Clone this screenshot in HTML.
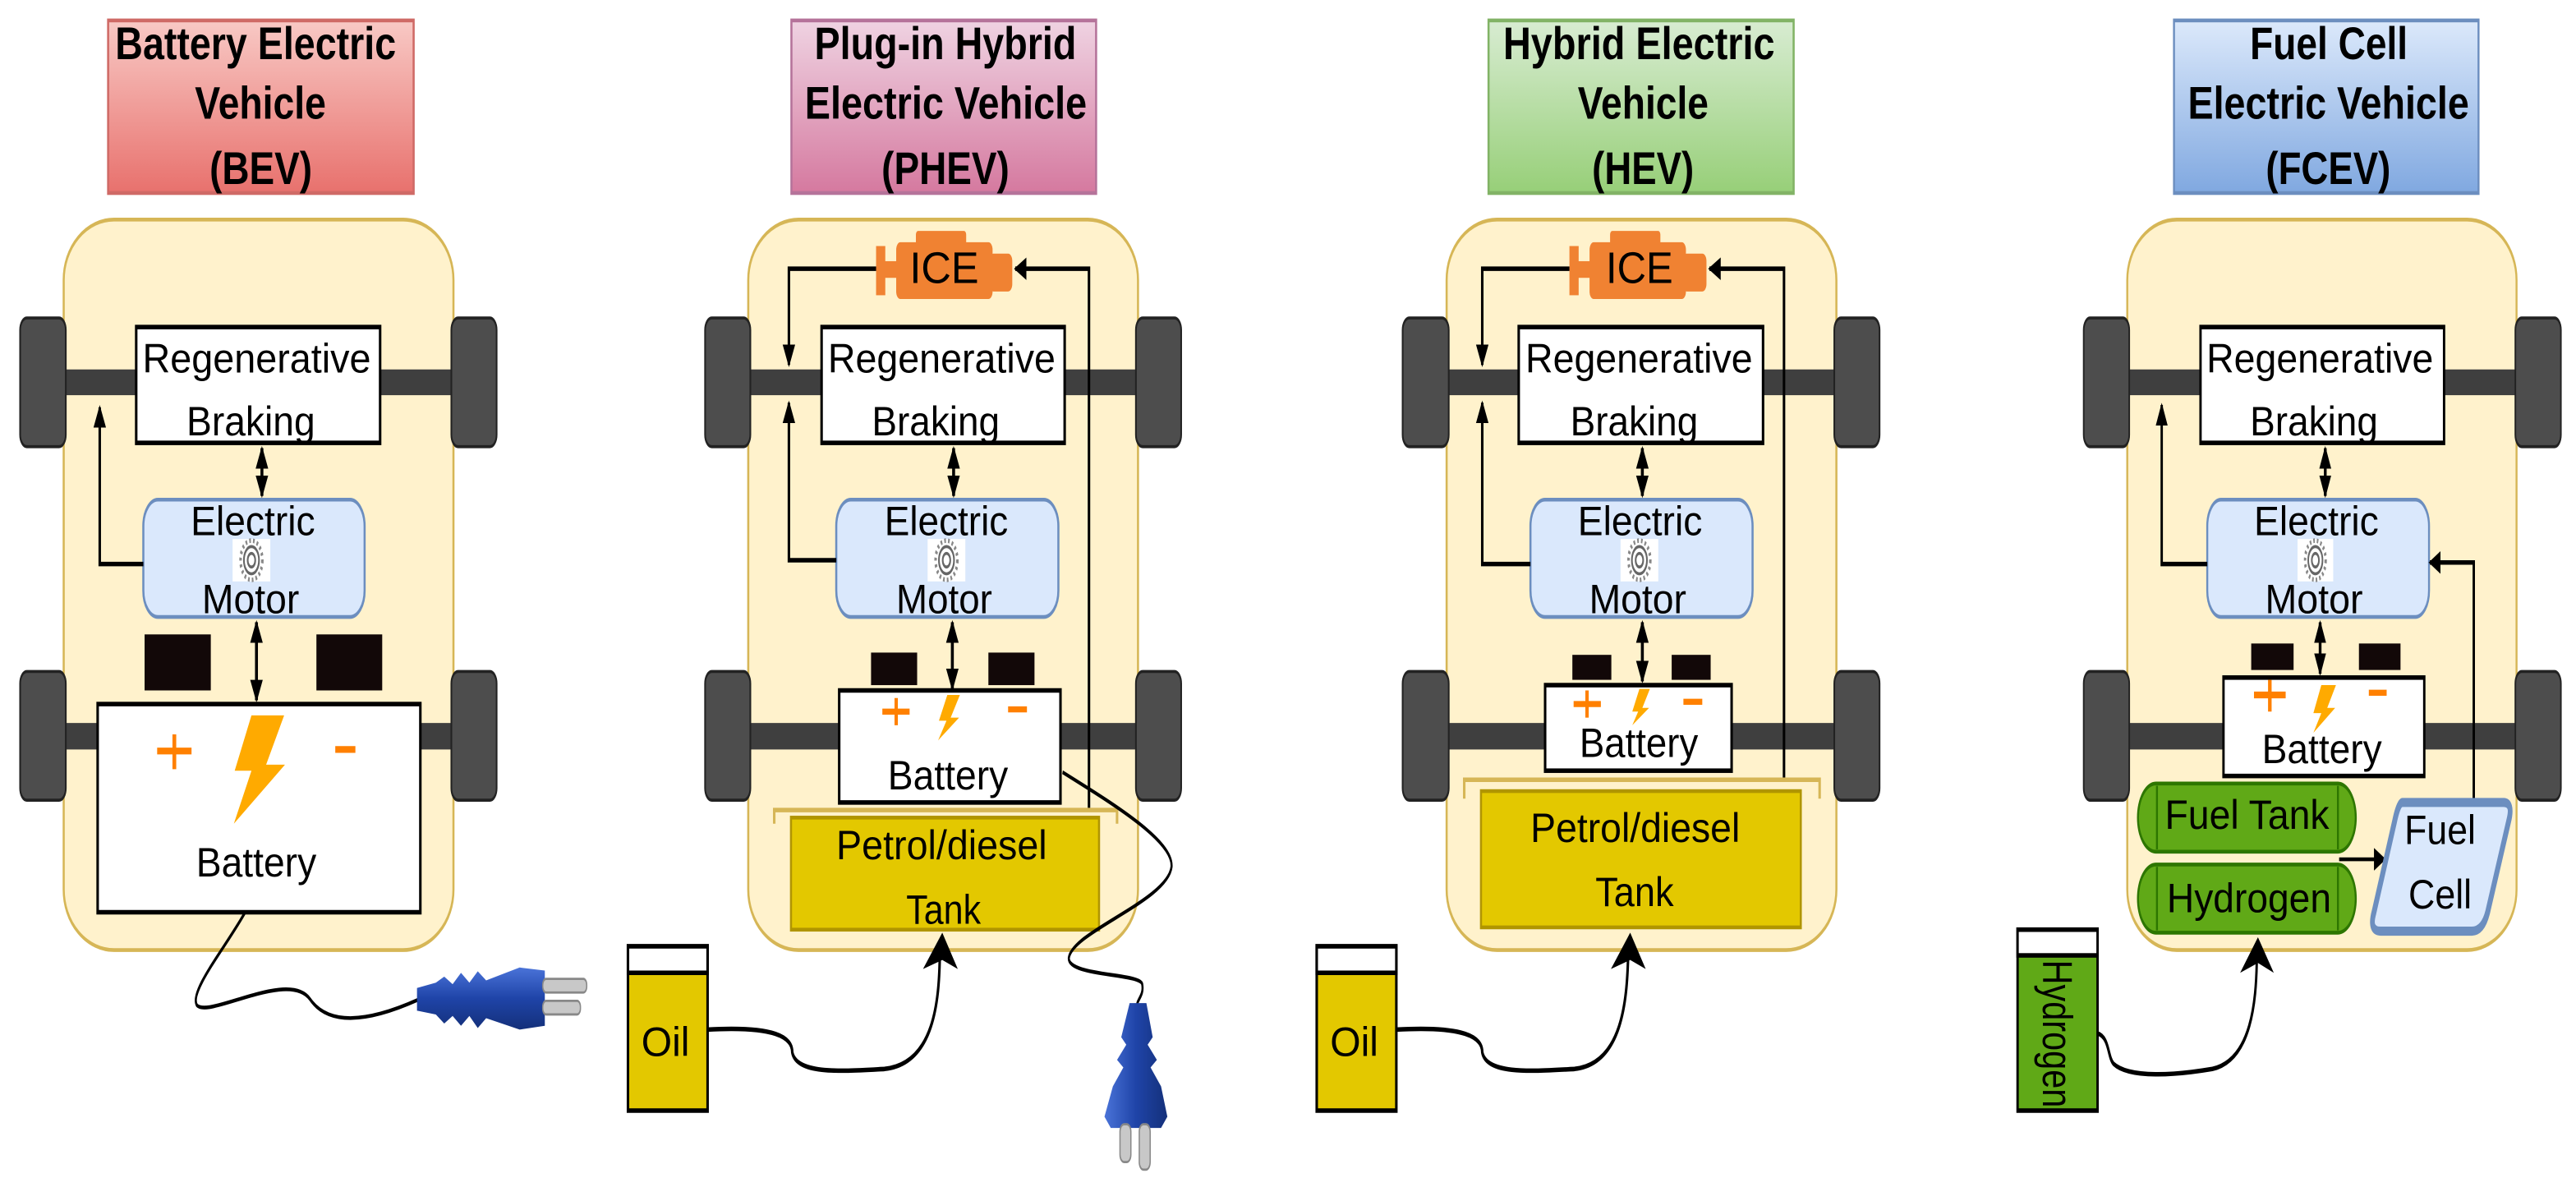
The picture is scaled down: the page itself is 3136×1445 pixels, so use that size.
<!DOCTYPE html>
<html><head><meta charset="utf-8"><style>
html,body{margin:0;padding:0;background:#fff}
svg{display:block}
text{font-family:"Liberation Sans",Arial,sans-serif;fill:#000}
.b{font-weight:bold;font-size:60px}
.t{font-size:54px}
</style></head><body>
<svg width="3136" height="1445" viewBox="0 0 3136 1445" xmlns="http://www.w3.org/2000/svg">
<defs>
<linearGradient id="gr" x1="0" y1="0" x2="0" y2="1"><stop offset="0" stop-color="#f8c9c5"/><stop offset="1" stop-color="#e8716d"/></linearGradient>
<linearGradient id="gp" x1="0" y1="0" x2="0" y2="1"><stop offset="0" stop-color="#efd3e2"/><stop offset="1" stop-color="#d5799f"/></linearGradient>
<linearGradient id="gg" x1="0" y1="0" x2="0" y2="1"><stop offset="0" stop-color="#d8ecd2"/><stop offset="1" stop-color="#97cf78"/></linearGradient>
<linearGradient id="gb" x1="0" y1="0" x2="0" y2="1"><stop offset="0" stop-color="#dce9fb"/><stop offset="1" stop-color="#80a8e0"/></linearGradient>
<linearGradient id="plug" x1="0" y1="0" x2="0" y2="1"><stop offset="0" stop-color="#4a73d8"/><stop offset="0.5" stop-color="#1f44a8"/><stop offset="1" stop-color="#14307a"/></linearGradient>
<linearGradient id="plugv" x1="0" y1="0" x2="1" y2="0"><stop offset="0" stop-color="#4a73d8"/><stop offset="0.5" stop-color="#1f44a8"/><stop offset="1" stop-color="#14307a"/></linearGradient>
<marker id="ah" viewBox="0 0 10 10" refX="9" refY="5" markerUnits="userSpaceOnUse" markerWidth="30" markerHeight="55" orient="auto-start-reverse"><path d="M0,0 L10,5 L0,10 z" fill="#000"/></marker>
</defs>

<!-- ================= BEV ================= -->
<g transform="translate(0,0) scale(0.5102,0.9216)">
<rect x="258" y="27" width="729" height="228" fill="url(#gr)" stroke="#cf6a66" stroke-width="5"/>
<text class="b" x="275" y="78" textLength="670" lengthAdjust="spacingAndGlyphs">Battery Electric</text>
<text class="b" x="465" y="157" textLength="313" lengthAdjust="spacingAndGlyphs">Vehicle</text>
<text class="b" x="500" y="243" textLength="245" lengthAdjust="spacingAndGlyphs">(BEV)</text>
<rect x="152" y="290" width="930" height="965" rx="120" ry="80" fill="#fff2cc" stroke="#d6b656" stroke-width="5"/>
<rect x="150" y="488" width="935" height="34" fill="#3f3f3f"/>
<rect x="150" y="955" width="935" height="35" fill="#3f3f3f"/>
<rect x="48" y="420" width="109" height="170" rx="16" fill="#4d4d4d" stroke="#222" stroke-width="4"/>
<rect x="48" y="887" width="109" height="170" rx="16" fill="#4d4d4d" stroke="#222" stroke-width="4"/>
<rect x="1077" y="420" width="108" height="170" rx="16" fill="#4d4d4d" stroke="#222" stroke-width="4"/>
<rect x="1077" y="887" width="108" height="170" rx="16" fill="#4d4d4d" stroke="#222" stroke-width="4"/>
<rect x="325" y="432" width="582" height="153" fill="#fff" stroke="#000" stroke-width="6"/>
<text class="t" x="340" y="492" textLength="545" lengthAdjust="spacingAndGlyphs">Regenerative</text>
<text class="t" x="445" y="575" textLength="307" lengthAdjust="spacingAndGlyphs">Braking</text>
<line x1="625" y1="592" x2="625" y2="655" stroke="#000" stroke-width="7" marker-start="url(#ah)" marker-end="url(#ah)"/>
<rect x="342" y="660" width="528" height="155" rx="35" fill="#dae8fc" stroke="#6c8ebf" stroke-width="5"/>
<text class="t" x="455" y="707" textLength="297" lengthAdjust="spacingAndGlyphs">Electric</text>
<g transform="translate(600,740)"><rect x="-45" y="-28" width="90" height="56" fill="#fff"/><circle r="26" fill="none" stroke="#888" stroke-width="6" stroke-dasharray="4 5"/><circle r="18" fill="#fff" stroke="#666" stroke-width="4"/><circle r="9" fill="none" stroke="#666" stroke-width="4"/></g>
<text class="t" x="482" y="810" textLength="232" lengthAdjust="spacingAndGlyphs">Motor</text>
<polyline points="342,745 238,745 238,538" fill="none" stroke="#000" stroke-width="6" marker-end="url(#ah)"/>
<rect x="345" y="838" width="158" height="74" fill="#120808"/>
<rect x="755" y="838" width="157" height="74" fill="#120808"/>
<line x1="612" y1="822" x2="612" y2="925" stroke="#000" stroke-width="7" marker-start="url(#ah)" marker-end="url(#ah)"/>
<rect x="233" y="930" width="770" height="275" fill="#fff" stroke="#000" stroke-width="6"/>
<path d="M375,992 h82 M416,970 v46" stroke="#ff8000" stroke-width="9"/>
<path d="M600,945 L678,945 L635,1010 L680,1010 L558,1088 L600,1018 L560,1018 z" fill="#ffaa00"/>
<path d="M800,990 h48" stroke="#ff8000" stroke-width="9"/>
<text class="t" x="468" y="1158" textLength="287" lengthAdjust="spacingAndGlyphs">Battery</text>
<path d="M585,1205 C540,1250 450,1310 470,1328 C500,1345 690,1280 740,1320 C790,1360 900,1345 1000,1320" fill="none" stroke="#000" stroke-width="5"/>
<path d="M995,1305 L1040,1298 L1060,1290 L1080,1300 L1100,1285 L1120,1298 L1140,1283 L1160,1295 L1240,1278 L1300,1282 L1300,1355 L1240,1360 L1160,1345 L1140,1358 L1120,1342 L1100,1355 L1080,1342 L1060,1352 L1040,1340 L995,1335 z" fill="url(#plug)"/>
<rect x="1295" y="1293" width="105" height="18" rx="8" fill="#c8c8c8" stroke="#888" stroke-width="3"/>
<rect x="1295" y="1322" width="90" height="18" rx="8" fill="#c8c8c8" stroke="#888" stroke-width="3"/>
</g>

<!-- ================= PHEV ================= -->
<g transform="translate(740,0) scale(0.5102,0.9216)">
<rect x="438" y="27" width="727" height="228" fill="url(#gp)" stroke="#b5739a" stroke-width="5"/>
<text class="b" x="493" y="78" textLength="625" lengthAdjust="spacingAndGlyphs">Plug-in Hybrid</text>
<text class="b" x="470" y="157" textLength="673" lengthAdjust="spacingAndGlyphs">Electric Vehicle</text>
<text class="b" x="653" y="243" textLength="305" lengthAdjust="spacingAndGlyphs">(PHEV)</text>
<rect x="335" y="290" width="930" height="965" rx="120" ry="80" fill="#fff2cc" stroke="#d6b656" stroke-width="5"/>
<rect x="335" y="488" width="930" height="34" fill="#3f3f3f"/>
<rect x="335" y="955" width="930" height="35" fill="#3f3f3f"/>
<rect x="232" y="420" width="108" height="170" rx="16" fill="#4d4d4d" stroke="#222" stroke-width="4"/>
<rect x="232" y="887" width="108" height="170" rx="16" fill="#4d4d4d" stroke="#222" stroke-width="4"/>
<rect x="1260" y="420" width="108" height="170" rx="16" fill="#4d4d4d" stroke="#222" stroke-width="4"/>
<rect x="1260" y="887" width="108" height="170" rx="16" fill="#4d4d4d" stroke="#222" stroke-width="4"/>
<g fill="#f08232"><rect x="640" y="325" width="22" height="65"/><rect x="660" y="345" width="30" height="22"/><rect x="688" y="320" width="230" height="75" rx="10"/><rect x="735" y="305" width="120" height="25" rx="5"/><rect x="910" y="335" width="55" height="50" rx="10"/></g>
<text x="720" y="374" font-size="58" textLength="165" lengthAdjust="spacingAndGlyphs">ICE</text>
<polyline points="640,355 432,355 432,482" fill="none" stroke="#000" stroke-width="6" marker-end="url(#ah)"/>
<polyline points="1148,1068 1148,355 972,355" fill="none" stroke="#000" stroke-width="6" marker-end="url(#ah)"/>
<rect x="510" y="432" width="580" height="153" fill="#fff" stroke="#000" stroke-width="6"/>
<text class="t" x="525" y="492" textLength="543" lengthAdjust="spacingAndGlyphs">Regenerative</text>
<text class="t" x="630" y="575" textLength="305" lengthAdjust="spacingAndGlyphs">Braking</text>
<line x1="825" y1="592" x2="825" y2="655" stroke="#000" stroke-width="7" marker-start="url(#ah)" marker-end="url(#ah)"/>
<rect x="545" y="660" width="530" height="155" rx="35" fill="#dae8fc" stroke="#6c8ebf" stroke-width="5"/>
<text class="t" x="660" y="707" textLength="295" lengthAdjust="spacingAndGlyphs">Electric</text>
<g transform="translate(808,740)"><rect x="-45" y="-28" width="90" height="56" fill="#fff"/><circle r="26" fill="none" stroke="#888" stroke-width="6" stroke-dasharray="4 5"/><circle r="18" fill="#fff" stroke="#666" stroke-width="4"/><circle r="9" fill="none" stroke="#666" stroke-width="4"/></g>
<text class="t" x="688" y="810" textLength="229" lengthAdjust="spacingAndGlyphs">Motor</text>
<polyline points="545,740 432,740 432,532" fill="none" stroke="#000" stroke-width="6" marker-end="url(#ah)"/>
<rect x="628" y="862" width="110" height="43" fill="#120808"/>
<rect x="908" y="862" width="110" height="43" fill="#120808"/>
<line x1="822" y1="822" x2="822" y2="910" stroke="#000" stroke-width="7" marker-start="url(#ah)" marker-end="url(#ah)"/>
<rect x="552" y="912" width="528" height="148" fill="#fff" stroke="#000" stroke-width="6"/>
<path d="M655,940 h65 M688,922 v36" stroke="#ff8000" stroke-width="8"/>
<path d="M810,918 L840,918 L818,948 L838,948 L788,978 L808,952 L790,952 z" fill="#ffaa00"/>
<path d="M955,937 h45" stroke="#ff8000" stroke-width="8"/>
<text class="t" x="668" y="1043" textLength="287" lengthAdjust="spacingAndGlyphs">Battery</text>
<path d="M397,1088 V1070 H1215 V1088" fill="none" stroke="#d6b656" stroke-width="6"/>
<rect x="437" y="1080" width="735" height="148" fill="#e3c800" stroke="#b09500" stroke-width="5"/>
<text class="t" x="545" y="1135" textLength="503" lengthAdjust="spacingAndGlyphs">Petrol/diesel</text>
<text class="t" x="712" y="1220" textLength="178" lengthAdjust="spacingAndGlyphs">Tank</text>
<rect x="48" y="1250" width="190" height="217" fill="#e3c800" stroke="#000" stroke-width="6"/>
<rect x="48" y="1250" width="190" height="35" fill="#fff" stroke="#000" stroke-width="6"/>
<text class="t" x="80" y="1395" textLength="115" lengthAdjust="spacingAndGlyphs">Oil</text>
<path d="M238,1360 C400,1355 440,1370 440,1390 C450,1420 560,1415 660,1412 C780,1405 790,1320 792,1265" fill="none" stroke="#000" stroke-width="6"/>
<path d="M798,1232 L835,1280 L798,1268 L752,1280 z" fill="#000"/>
<path d="M1085,1020 C1200,1060 1350,1110 1345,1145 C1335,1190 1110,1230 1100,1265 C1095,1290 1270,1285 1275,1300 C1280,1315 1262,1320 1262,1330" fill="none" stroke="#000" stroke-width="5"/>
<path d="M1245,1325 L1285,1325 L1300,1370 L1288,1380 L1310,1400 L1295,1410 L1320,1435 L1335,1475 L1320,1490 L1200,1490 L1185,1475 L1205,1435 L1230,1410 L1215,1400 L1237,1380 L1225,1370 z" fill="url(#plugv)"/>
<rect x="1222" y="1485" width="26" height="50" rx="10" fill="#c8c8c8" stroke="#888" stroke-width="3"/>
<rect x="1268" y="1485" width="26" height="60" rx="10" fill="#c8c8c8" stroke="#888" stroke-width="3"/>
</g>

<!-- ================= HEV ================= -->
<g transform="translate(1580,0) scale(0.5102,0.9216)">
<rect x="455" y="27" width="728" height="228" fill="url(#gg)" stroke="#82b366" stroke-width="5"/>
<text class="b" x="490" y="78" textLength="648" lengthAdjust="spacingAndGlyphs">Hybrid Electric</text>
<text class="b" x="668" y="157" textLength="312" lengthAdjust="spacingAndGlyphs">Vehicle</text>
<text class="b" x="702" y="243" textLength="243" lengthAdjust="spacingAndGlyphs">(HEV)</text>
<rect x="355" y="290" width="930" height="965" rx="120" ry="80" fill="#fff2cc" stroke="#d6b656" stroke-width="5"/>
<rect x="355" y="488" width="930" height="34" fill="#3f3f3f"/>
<rect x="355" y="955" width="930" height="35" fill="#3f3f3f"/>
<rect x="250" y="420" width="110" height="170" rx="16" fill="#4d4d4d" stroke="#222" stroke-width="4"/>
<rect x="250" y="887" width="110" height="170" rx="16" fill="#4d4d4d" stroke="#222" stroke-width="4"/>
<rect x="1280" y="420" width="108" height="170" rx="16" fill="#4d4d4d" stroke="#222" stroke-width="4"/>
<rect x="1280" y="887" width="108" height="170" rx="16" fill="#4d4d4d" stroke="#222" stroke-width="4"/>
<g fill="#f08232"><rect x="648" y="325" width="22" height="65"/><rect x="668" y="345" width="30" height="22"/><rect x="696" y="320" width="230" height="75" rx="10"/><rect x="745" y="305" width="120" height="25" rx="5"/><rect x="918" y="335" width="57" height="50" rx="10"/></g>
<text x="735" y="374" font-size="58" textLength="160" lengthAdjust="spacingAndGlyphs">ICE</text>
<polyline points="648,355 440,355 440,482" fill="none" stroke="#000" stroke-width="6" marker-end="url(#ah)"/>
<polyline points="1160,1030 1160,355 982,355" fill="none" stroke="#000" stroke-width="6" marker-end="url(#ah)"/>
<rect x="527" y="432" width="583" height="153" fill="#fff" stroke="#000" stroke-width="6"/>
<text class="t" x="543" y="492" textLength="542" lengthAdjust="spacingAndGlyphs">Regenerative</text>
<text class="t" x="650" y="575" textLength="305" lengthAdjust="spacingAndGlyphs">Braking</text>
<line x1="822" y1="592" x2="822" y2="655" stroke="#000" stroke-width="7" marker-start="url(#ah)" marker-end="url(#ah)"/>
<rect x="555" y="660" width="530" height="155" rx="35" fill="#dae8fc" stroke="#6c8ebf" stroke-width="5"/>
<text class="t" x="668" y="707" textLength="297" lengthAdjust="spacingAndGlyphs">Electric</text>
<g transform="translate(815,740)"><rect x="-45" y="-28" width="90" height="56" fill="#fff"/><circle r="26" fill="none" stroke="#888" stroke-width="6" stroke-dasharray="4 5"/><circle r="18" fill="#fff" stroke="#666" stroke-width="4"/><circle r="9" fill="none" stroke="#666" stroke-width="4"/></g>
<text class="t" x="695" y="810" textLength="232" lengthAdjust="spacingAndGlyphs">Motor</text>
<polyline points="555,745 440,745 440,532" fill="none" stroke="#000" stroke-width="6" marker-end="url(#ah)"/>
<rect x="655" y="865" width="93" height="33" fill="#120808"/>
<rect x="892" y="865" width="93" height="33" fill="#120808"/>
<line x1="822" y1="822" x2="822" y2="900" stroke="#000" stroke-width="7" marker-start="url(#ah)" marker-end="url(#ah)"/>
<rect x="590" y="905" width="445" height="113" fill="#fff" stroke="#000" stroke-width="6"/>
<path d="M658,930 h65 M690,912 v36" stroke="#ff8000" stroke-width="8"/>
<path d="M815,910 L840,910 L822,935 L838,935 L798,958 L812,940 L798,940 z" fill="#ffaa00"/>
<path d="M920,927 h45" stroke="#ff8000" stroke-width="8"/>
<text class="t" x="672" y="1000" textLength="283" lengthAdjust="spacingAndGlyphs">Battery</text>
<path d="M397,1055 V1030 H1245 V1055" fill="none" stroke="#d6b656" stroke-width="6"/>
<rect x="437" y="1045" width="763" height="180" fill="#e3c800" stroke="#b09500" stroke-width="5"/>
<text class="t" x="555" y="1112" textLength="500" lengthAdjust="spacingAndGlyphs">Petrol/diesel</text>
<text class="t" x="710" y="1197" textLength="187" lengthAdjust="spacingAndGlyphs">Tank</text>
<rect x="45" y="1250" width="190" height="217" fill="#e3c800" stroke="#000" stroke-width="6"/>
<rect x="45" y="1250" width="190" height="35" fill="#fff" stroke="#000" stroke-width="6"/>
<text class="t" x="77" y="1395" textLength="115" lengthAdjust="spacingAndGlyphs">Oil</text>
<path d="M235,1360 C400,1355 440,1370 440,1390 C450,1420 560,1415 660,1412 C775,1405 785,1320 788,1265" fill="none" stroke="#000" stroke-width="6"/>
<path d="M793,1232 L830,1280 L793,1268 L747,1280 z" fill="#000"/>
</g>

<!-- ================= FCEV ================= -->
<g transform="translate(2380,0) scale(0.4821,0.9216)">
<rect x="553" y="27" width="769" height="228" fill="url(#gb)" stroke="#6c8ebf" stroke-width="5"/>
<text class="b" x="745" y="78" textLength="398" lengthAdjust="spacingAndGlyphs">Fuel Cell</text>
<text class="b" x="588" y="157" textLength="710" lengthAdjust="spacingAndGlyphs">Electric Vehicle</text>
<text class="b" x="785" y="243" textLength="315" lengthAdjust="spacingAndGlyphs">(FCEV)</text>
<rect x="435" y="290" width="983" height="965" rx="125" ry="80" fill="#fff2cc" stroke="#d6b656" stroke-width="5"/>
<rect x="435" y="488" width="983" height="34" fill="#3f3f3f"/>
<rect x="435" y="955" width="983" height="35" fill="#3f3f3f"/>
<rect x="325" y="420" width="115" height="170" rx="16" fill="#4d4d4d" stroke="#222" stroke-width="4"/>
<rect x="325" y="887" width="115" height="170" rx="16" fill="#4d4d4d" stroke="#222" stroke-width="4"/>
<rect x="1415" y="420" width="115" height="170" rx="16" fill="#4d4d4d" stroke="#222" stroke-width="4"/>
<rect x="1415" y="887" width="115" height="170" rx="16" fill="#4d4d4d" stroke="#222" stroke-width="4"/>
<rect x="620" y="432" width="615" height="153" fill="#fff" stroke="#000" stroke-width="6"/>
<text class="t" x="635" y="492" textLength="573" lengthAdjust="spacingAndGlyphs">Regenerative</text>
<text class="t" x="745" y="575" textLength="323" lengthAdjust="spacingAndGlyphs">Braking</text>
<line x1="935" y1="592" x2="935" y2="655" stroke="#000" stroke-width="7" marker-start="url(#ah)" marker-end="url(#ah)"/>
<rect x="637" y="660" width="560" height="155" rx="35" fill="#dae8fc" stroke="#6c8ebf" stroke-width="5"/>
<text class="t" x="755" y="707" textLength="315" lengthAdjust="spacingAndGlyphs">Electric</text>
<g transform="translate(910,740)"><rect x="-45" y="-28" width="90" height="56" fill="#fff"/><circle r="26" fill="none" stroke="#888" stroke-width="6" stroke-dasharray="4 5"/><circle r="18" fill="#fff" stroke="#666" stroke-width="4"/><circle r="9" fill="none" stroke="#666" stroke-width="4"/></g>
<text class="t" x="783" y="810" textLength="247" lengthAdjust="spacingAndGlyphs">Motor</text>
<polyline points="637,745 522,745 522,535" fill="none" stroke="#000" stroke-width="6" marker-end="url(#ah)"/>
<polyline points="1310,1060 1310,743 1199,743" fill="none" stroke="#000" stroke-width="6" marker-end="url(#ah)"/>
<rect x="748" y="850" width="107" height="35" fill="#120808"/>
<rect x="1020" y="850" width="105" height="35" fill="#120808"/>
<line x1="922" y1="822" x2="922" y2="890" stroke="#000" stroke-width="7" marker-start="url(#ah)" marker-end="url(#ah)"/>
<rect x="678" y="895" width="507" height="130" fill="#fff" stroke="#000" stroke-width="6"/>
<path d="M755,918 h80 M795,898 v42" stroke="#ff8000" stroke-width="9"/>
<path d="M925,905 L962,905 L940,935 L960,935 L905,968 L925,942 L905,942 z" fill="#ffaa00"/>
<path d="M1045,915 h45" stroke="#ff8000" stroke-width="8"/>
<text class="t" x="775" y="1008" textLength="303" lengthAdjust="spacingAndGlyphs">Battery</text>
<rect x="462" y="1035" width="550" height="90" rx="45" fill="#60a917" stroke="#2d7600" stroke-width="5"/>
<path d="M510,1038 V1122 M967,1038 V1122" stroke="#2d7600" stroke-width="5"/>
<text class="t" x="530" y="1095" textLength="415" lengthAdjust="spacingAndGlyphs">Fuel Tank</text>
<rect x="462" y="1142" width="550" height="90" rx="45" fill="#60a917" stroke="#2d7600" stroke-width="5"/>
<path d="M510,1145 V1229 M967,1145 V1229" stroke="#2d7600" stroke-width="5"/>
<text class="t" x="535" y="1205" textLength="415" lengthAdjust="spacingAndGlyphs">Hydrogen</text>
<line x1="970" y1="1135" x2="1085" y2="1135" stroke="#000" stroke-width="5" marker-end="url(#ah)"/>
<path d="M1130,1060 L1385,1060 Q1410,1060 1398,1085 L1345,1205 Q1333,1230 1305,1230 L1075,1230 Q1045,1230 1058,1205 L1110,1085 Q1120,1060 1130,1060 z" fill="#dae8fc" stroke="#6c8ebf" stroke-width="12"/>
<text class="t" x="1135" y="1115" textLength="180" lengthAdjust="spacingAndGlyphs">Fuel</text>
<text class="t" x="1145" y="1200" textLength="160" lengthAdjust="spacingAndGlyphs">Cell</text>
<rect x="158" y="1228" width="202" height="239" fill="#60a917" stroke="#000" stroke-width="6"/>
<rect x="158" y="1228" width="202" height="34" fill="#fff" stroke="#000" stroke-width="6"/>
<text transform="translate(222,1268) rotate(90)" font-size="105" textLength="195" lengthAdjust="spacingAndGlyphs">Hydrogen</text>
<path d="M360,1365 C390,1370 385,1395 400,1405 C440,1425 560,1420 650,1412 C750,1400 760,1320 762,1272" fill="none" stroke="#000" stroke-width="6"/>
<path d="M765,1238 L805,1285 L765,1272 L720,1285 z" fill="#000"/>
</g>
</svg>
</body></html>
